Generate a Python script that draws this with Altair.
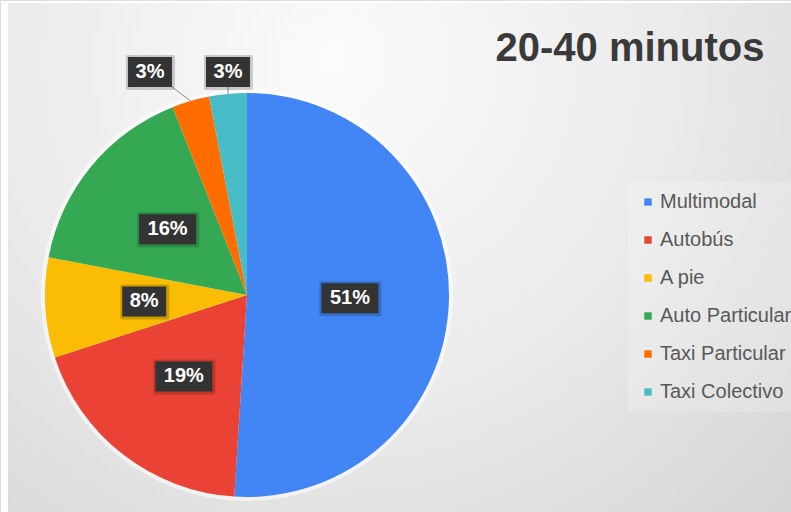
import math
import altair as alt
import pandas as pd

# ---- data ----
categories = ["Multimodal", "Autobús", "A pie", "Auto Particular", "Taxi Particular", "Taxi Colectivo"]
values = [51, 19, 8, 16, 3, 3]
colors = ["#4285F4", "#EA4335", "#FBBC04", "#34A853", "#FF6D01", "#46BDC6"]
title_text = "20-40 minutos"

# ---- layout constants ----
W, H = 791, 512
CX, CY, R = 247, 295, 202
INNER_LABEL_R = 103
BOX_H = 30
OUT_LABEL_Y = CY - R - 21
MIN_SPACING = 78

pie_df = pd.DataFrame({"cat": categories, "value": values, "idx": list(range(len(values)))})

# label geometry derived from the data
total = sum(values)
cum = 0.0
rows = []
for i, (c, v) in enumerate(zip(categories, values)):
    mid = (cum + v / 2) / total * 2 * math.pi
    cum += v
    txt = f"{round(v / total * 100)}%"
    w = 18 + 13 * len(txt)
    ex = CX + R * math.sin(mid)
    ey = CY - R * math.cos(mid)
    inside = v / total >= 0.05
    if inside:
        lx = CX + INNER_LABEL_R * math.sin(mid)
        ly = CY - INNER_LABEL_R * math.cos(mid)
    else:
        lx, ly = ex, OUT_LABEL_Y
    rows.append(dict(cat=c, txt=txt, w=w, mid=mid, ex=ex, ey=ey, lx=lx, ly=ly, inside=inside))

# spread outside labels so they do not collide
outs = sorted([r for r in rows if not r["inside"]], key=lambda r: -r["mid"])
prev = None
for r in outs:
    if prev is not None and r["lx"] > prev - MIN_SPACING:
        r["lx"] = prev - MIN_SPACING
    prev = r["lx"]

for r in rows:
    r["x0"] = r["lx"] - r["w"] / 2
    r["x1"] = r["lx"] + r["w"] / 2
    r["y0"] = r["ly"] - BOX_H / 2
    r["y1"] = r["ly"] + BOX_H / 2
    r["sx0"] = r["x0"] - 2
    r["sx1"] = r["x1"] + 3
    r["sy0"] = r["y0"] - 2
    r["sy1"] = r["y1"] + 3
    r["lsx"] = min(max(r["ex"], r["x0"]), r["x1"])
    r["lsy"] = r["y1"]
lab_df = pd.DataFrame(rows)
lead_df = lab_df[~lab_df["inside"]]

one = pd.DataFrame({"a": [0]})

bg = alt.Chart(one).mark_rect(
    color={
        "gradient": "radial",
        "x1": 0.42, "y1": 0.25, "r1": 0,
        "x2": 0.42, "y2": 0.25, "r2": 0.95,
        "stops": [
            {"offset": 0, "color": "#fbfbfb"},
            {"offset": 0.45, "color": "#ebebeb"},
            {"offset": 1, "color": "#cdcdcd"},
        ],
    }
).encode(x=alt.value(8), x2=alt.value(W), y=alt.value(3), y2=alt.value(H))

halo = alt.Chart(one).mark_arc(radius=R + 4, color="#ffffff", opacity=0.55, x=CX, y=CY).encode(
    theta=alt.value(2 * math.pi), theta2=alt.value(0)
)

pie = alt.Chart(pie_df).mark_arc(radius=R, x=CX, y=CY).encode(
    theta=alt.Theta("value:Q", stack=True),
    order=alt.Order("idx:Q"),
    color=alt.Color(
        "cat:N",
        sort=categories,
        scale=alt.Scale(domain=categories, range=colors),
        legend=alt.Legend(
            title=None,
            orient="none",
            legendX=628,
            legendY=182,
            padding=10,
            fillColor="rgba(255,255,255,0.18)",
            symbolType="square",
            symbolSize=55,
            symbolStrokeWidth=0,
            labelFont="Liberation Sans",
            labelFontSize=20,
            labelColor="#595959",
            labelOffset=2,
            rowPadding=18,
            labelLimit=300,
        ),
    ),
)

leads = alt.Chart(lead_df).mark_rule(color="#8a8a8a", strokeWidth=1).encode(
    x=alt.X("lsx:Q", scale=None, axis=None),
    y=alt.Y("lsy:Q", scale=None, axis=None),
    x2="ex:Q",
    y2="ey:Q",
)

shadow = alt.Chart(lab_df).mark_rect(color="#000000", opacity=0.18, cornerRadius=2).encode(
    x=alt.X("sx0:Q", scale=None, axis=None),
    x2="sx1:Q",
    y=alt.Y("sy0:Q", scale=None, axis=None),
    y2="sy1:Q",
)

boxes = alt.Chart(lab_df).mark_rect(color="#333333").encode(
    x=alt.X("x0:Q", scale=None, axis=None),
    x2="x1:Q",
    y=alt.Y("y0:Q", scale=None, axis=None),
    y2="y1:Q",
)

texts = alt.Chart(lab_df).mark_text(
    color="#ffffff", font="Liberation Sans", fontWeight="bold", fontSize=20, baseline="middle", align="center"
).encode(
    x=alt.X("lx:Q", scale=None, axis=None),
    y=alt.Y("ly:Q", scale=None, axis=None),
    text="txt:N",
)

title = alt.Chart(pd.DataFrame({"t": [title_text]})).mark_text(
    font="Liberation Sans", fontWeight="bold", fontSize=40, color="#3a3a3a",
    align="center", baseline="alphabetic", x=630, y=61,
).encode(text="t:N")

chart = alt.layer(bg, halo, pie, leads, shadow, boxes, texts, title).properties(
    width=W, height=H, padding=0, autosize=alt.AutoSizeParams(type="none")
).configure_view(stroke=None).configure(background="#ffffff")

chart.save("out.html", embed_options={"renderer": "svg", "actions": False})
